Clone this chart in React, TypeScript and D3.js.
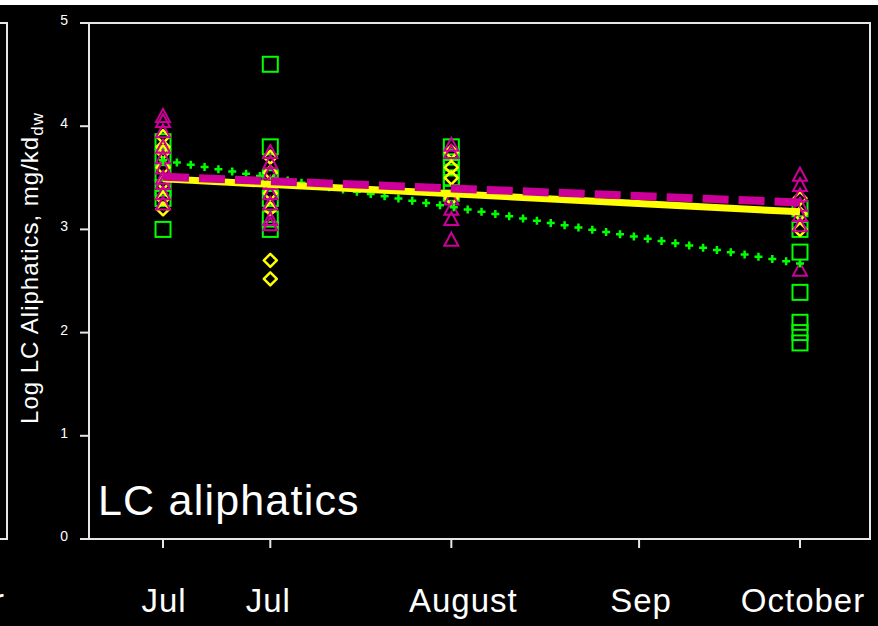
import React from "react";
import * as d3 from "d3";

// Sampling campaign days (days after 1 July) and their axis labels
const tickDays = [4, 20, 47, 75, 99];
const tickLabels = ["Jul", "Jul", "August", "Sep", "October"];
const labelShift = [1, -2, 12, 2, 3];
const sampleDays = [4, 20, 47, 99];

// Log LC aliphatics per sampling day, one array per site
const greenSquares = [
  [3.85, 3.7, 3.55, 3.4, 3.3, 3.0],
  [4.6, 3.8, 3.5, 3.3, 3.1, 3.0],
  [3.8, 3.7, 3.6, 3.5, 3.45, 3.35],
  [3.2, 3.0, 2.78, 2.39, 2.1, 2.0, 1.9],
];
const yellowDiamonds = [
  [3.9, 3.8, 3.75, 3.6, 3.45, 3.3, 3.2],
  [3.7, 3.55, 3.35, 3.2, 2.7, 2.52],
  [3.75, 3.6, 3.5, 3.3],
  [3.3, 3.15, 3.0],
];
const magentaTriangles = [
  [4.1, 4.05, 3.95, 3.8, 3.7, 3.6, 3.5, 3.45, 3.35, 3.25],
  [3.75, 3.65, 3.55, 3.45, 3.35, 3.25, 3.1, 3.05],
  [3.82, 3.75, 3.3, 3.2, 3.1, 2.9],
  [3.53, 3.43, 3.33, 3.24, 3.14, 3.04, 2.61],
];

// Linear trends (start / end of season)
const trendDays = [4, 99];
const greenTrend = [3.67, 2.67];
const yellowTrend = [3.49, 3.17];
const magentaTrend = [3.51, 3.26];

const yTicks = [0, 1, 2, 3, 4, 5];

const GREEN = "#00ff00";
const YELLOW = "#ffff00";
const MAGENTA = "#cc0099";
const AXIS = "#e6e6e6";
const FONT = "'Liberation Sans', Arial, sans-serif";

export default function App() {
  const W = 878;
  const H = 626;
  const left = 89;
  const right = 870;
  const top = 23;
  const bottom = 539;

  const x = d3.scaleLinear().domain([-7.04, 109.44]).range([left, right]);
  const y = d3.scaleLinear().domain([0, 5]).range([bottom, top]);

  const line = d3
    .line<[number, number]>()
    .x((d) => x(d[0]))
    .y((d) => y(d[1]));

  const trendPts = (vals: number[]) =>
    trendDays.map((d, i) => [d, vals[i]] as [number, number]);

  // plus-sign markers spaced evenly along the green trend
  const gx0 = x(trendDays[0]);
  const gx1 = x(trendDays[1]);
  const gy0 = y(greenTrend[0]);
  const gy1 = y(greenTrend[1]);
  const glen = Math.hypot(gx1 - gx0, gy1 - gy0);
  const nPlus = Math.floor(glen / 14);
  const plusPts = d3.range(nPlus + 1).map((i) => {
    const t = i / nPlus;
    return [gx0 + (gx1 - gx0) * t, gy0 + (gy1 - gy0) * t];
  });

  const sq = 7.5;
  const tri = (cx: number, cy: number) =>
    `M${cx},${cy - 7} L${cx + 7},${cy + 6} L${cx - 7},${cy + 6} Z`;
  const dia = (cx: number, cy: number) =>
    `M${cx},${cy - 6.5} L${cx + 6.5},${cy} L${cx},${cy + 6.5} L${cx - 6.5},${cy} Z`;

  return (
    <svg
      width={W}
      height={H}
      style={{ position: "fixed", left: 0, top: 0, display: "block" }}
      fontFamily={FONT}
    >
      <rect x={0} y={0} width={W} height={H} fill="#000" />
      <rect x={0} y={0} width={W} height={5} fill="#fff" />

      {/* edge of the neighbouring panel */}
      <path d={`M0,${top}H7V${bottom}H0`} fill="none" stroke={AXIS} strokeWidth={2} />
      <text x={-7} y={612} fontSize={33} fill="#fff">
        r
      </text>

      {/* frame */}
      <path
        d={`M${left - 9},${top}H${right}V${bottom}H${left - 9}M${left},${top}V${bottom}`}
        fill="none"
        stroke={AXIS}
        strokeWidth={2}
      />
      {yTicks.map((t) => (
        <g key={`y${t}`}>
          <line x1={left - 9} x2={left} y1={y(t)} y2={y(t)} stroke={AXIS} strokeWidth={2} />
          <text x={68} y={y(t) + 2} fontSize={14} fill="#fff" textAnchor="end">
            {t}
          </text>
        </g>
      ))}
      {tickDays.map((d, i) => (
        <g key={`x${i}`}>
          <line x1={x(d)} x2={x(d)} y1={bottom} y2={bottom + 9} stroke={AXIS} strokeWidth={2} />
          <text
            x={x(d) + labelShift[i]}
            y={612}
            fontSize={33}
            letterSpacing={1}
            fill="#fff"
            textAnchor="middle"
          >
            {tickLabels[i]}
          </text>
        </g>
      ))}

      <text
        transform={`translate(38,268) rotate(-90)`}
        fontSize={24}
        letterSpacing={1}
        fill="#fff"
        textAnchor="middle"
      >
        Log LC Aliphatics, mg/kd
        <tspan dy={5} fontSize={17}>
          dw
        </tspan>
      </text>

      <text x={98} y={515} fontSize={43} letterSpacing={1.2} fill="#fff">
        LC aliphatics
      </text>

      {/* observations */}
      {greenSquares.map((vals, i) =>
        vals.map((v, j) => (
          <rect
            key={`g${i}-${j}`}
            x={x(sampleDays[i]) - sq}
            y={y(v) - sq}
            width={sq * 2}
            height={sq * 2}
            fill="none"
            stroke={GREEN}
            strokeWidth={2}
          />
        ))
      )}
      {yellowDiamonds.map((vals, i) =>
        vals.map((v, j) => (
          <path
            key={`yd${i}-${j}`}
            d={dia(x(sampleDays[i]), y(v))}
            fill="none"
            stroke={YELLOW}
            strokeWidth={2.5}
            strokeLinejoin="round"
          />
        ))
      )}
      {magentaTriangles.map((vals, i) =>
        vals.map((v, j) => (
          <path
            key={`m${i}-${j}`}
            d={tri(x(sampleDays[i]), y(v))}
            fill="none"
            stroke={MAGENTA}
            strokeWidth={2}
          />
        ))
      )}

      {/* trends */}
      {plusPts.map((p, i) => (
        <path
          key={`p${i}`}
          d={`M${p[0] - 4},${p[1]}h8M${p[0]},${p[1] - 4}v8`}
          stroke={GREEN}
          strokeWidth={2.5}
        />
      ))}
      <path d={line(trendPts(yellowTrend)) || ""} stroke={YELLOW} strokeWidth={7} fill="none" />
      <path
        d={line(trendPts(magentaTrend)) || ""}
        stroke={MAGENTA}
        strokeWidth={8}
        strokeDasharray="26 10"
        fill="none"
      />
    </svg>
  );
}
